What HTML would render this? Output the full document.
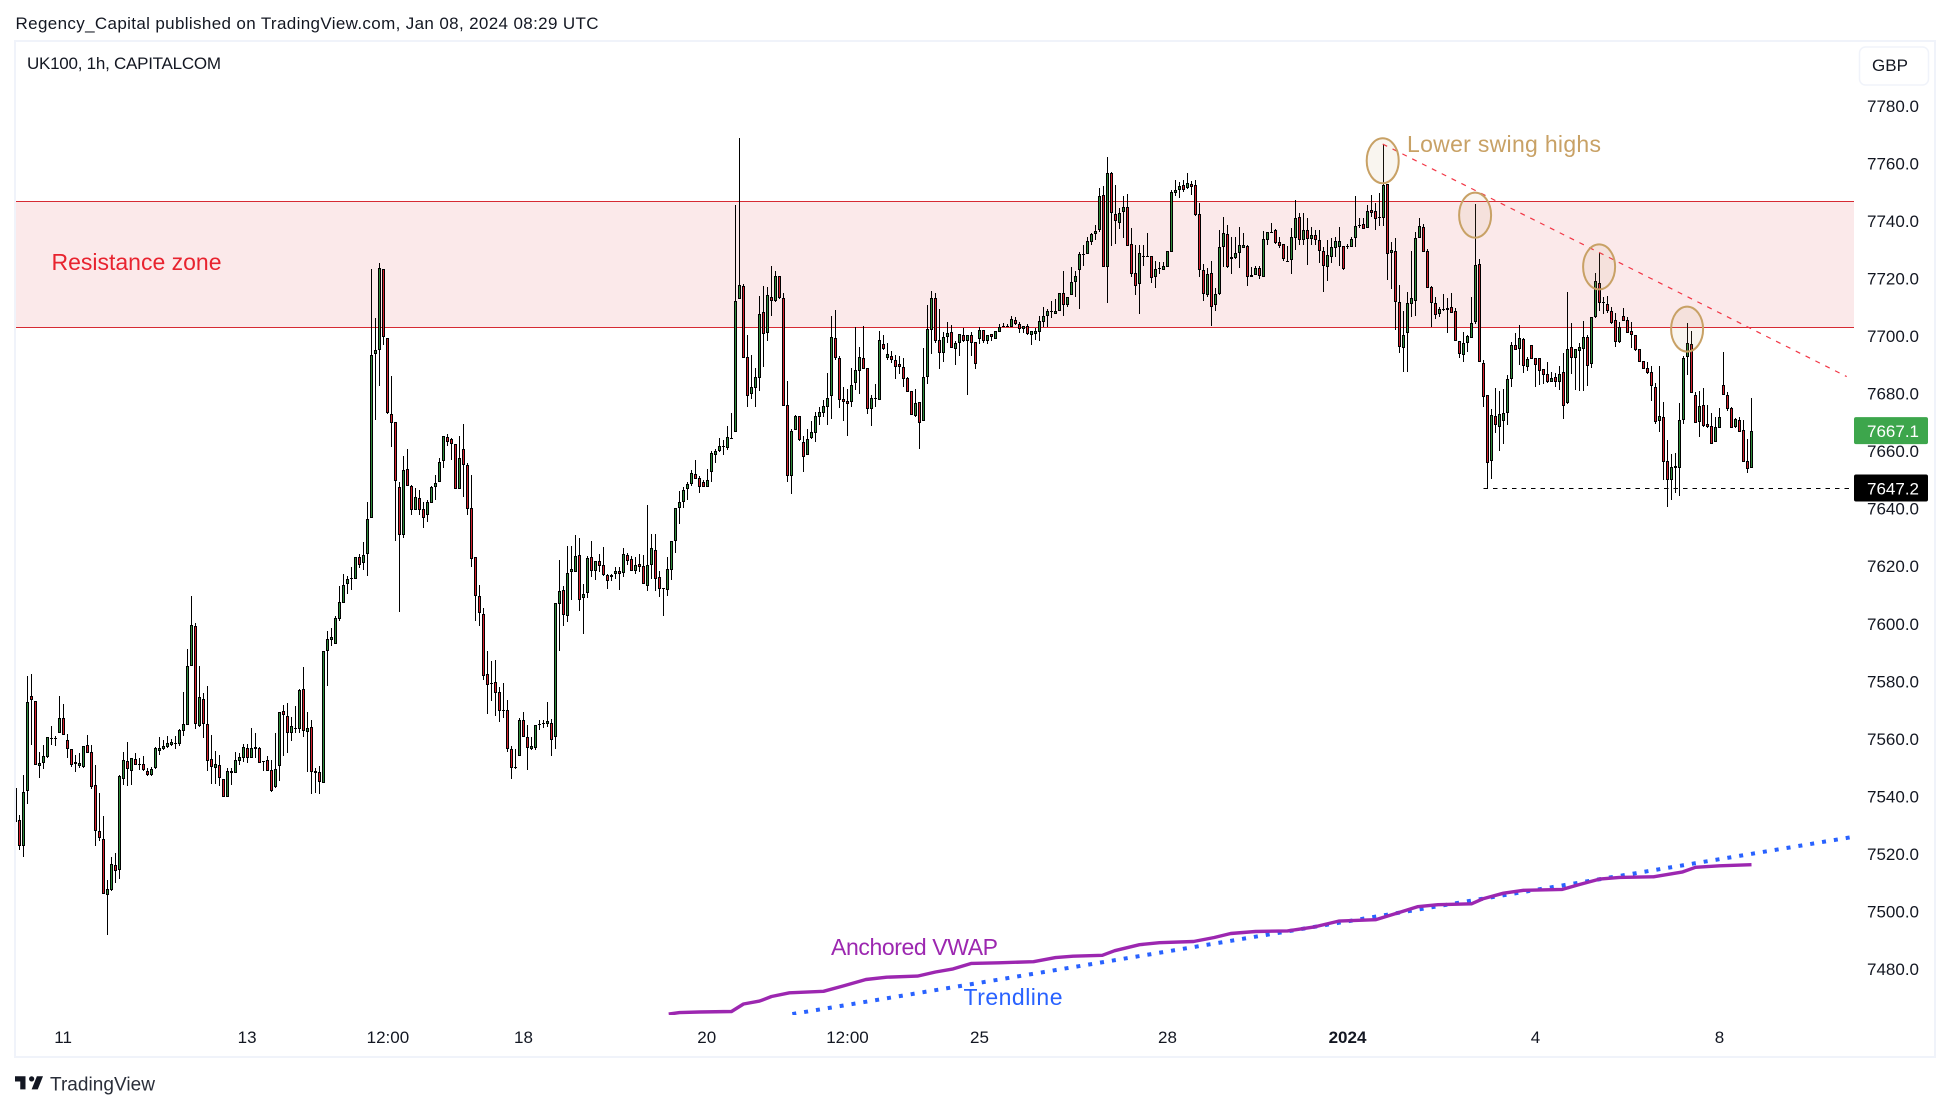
<!DOCTYPE html>
<html lang="en">
<head>
<meta charset="utf-8">
<title>UK100, 1h, CAPITALCOM</title>
<style>
html,body{margin:0;padding:0;background:#fff;}
svg{display:block;font-family:"Liberation Sans",Arial,sans-serif;}
</style>
</head>
<body>
<svg id="chart" xmlns="http://www.w3.org/2000/svg" width="1950" height="1110" viewBox="0 0 1950 1110">
  <defs><clipPath id="plot-clip"><rect x="16" y="42" width="1838" height="973"></rect></clipPath></defs>
  <rect x="0" y="0" width="1950" height="1110" fill="#ffffff"></rect>
  <text x="15.5" y="29" font-size="17" fill="#131722" textLength="583" lengthAdjust="spacing">Regency_Capital published on TradingView.com, Jan 08, 2024 08:29 UTC</text>
  <rect x="15" y="41" width="1920" height="1016" fill="none" stroke="#f0f3fa" stroke-width="2"></rect>
  <text x="27" y="69" font-size="17" fill="#131722" textLength="194" lengthAdjust="spacing">UK100, 1h, CAPITALCOM</text>
  <g id="zone"></g>
  <g id="candles" clip-path="url(#plot-clip)"></g>
  <g id="overlays" clip-path="url(#plot-clip)"></g>
  <text x="51.5" y="270" font-size="23" fill="#e8232f" textLength="170" lengthAdjust="spacing">Resistance zone</text>
  <text x="1407" y="152" font-size="23" fill="#c8a165" textLength="194" lengthAdjust="spacing">Lower swing highs</text>
  <text x="831" y="955" font-size="23" fill="#9c27b0" textLength="167" lengthAdjust="spacing">Anchored VWAP</text>
  <text x="963.5" y="1005" font-size="23" fill="#2962ff" textLength="99" lengthAdjust="spacing">Trendline</text>
  <g id="price-axis"></g>
  <g id="time-axis"></g>
  <g>
    <rect x="1859.5" y="47" width="69" height="38" rx="6" fill="#ffffff" stroke="#f0f3fa" stroke-width="1.5"></rect>
    <text x="1890" y="71" font-size="17" fill="#131722" text-anchor="middle">GBP</text>
  </g>
  <g>
    <path transform="translate(13.25,1071) scale(0.875)" fill="#131722" d="M14 6H2v6h6v9h6V6Zm14 15h-7l6-15h7l-6 15Zm-7-9a3 3 0 1 0 0-6 3 3 0 0 0 0 6Z"></path>
    <text x="50" y="1090.5" font-size="19" fill="#2a2e39" textLength="105" lengthAdjust="spacing">TradingView</text>
  </g>
</svg>
<script>
const priceTicks = [7780,7760,7740,7720,7700,7680,7660,7640,7620,7600,7580,7560,7540,7520,7500,7480];
const timeLabels = ["11","13","12:00","18","20","12:00","25","28","2024","4","8"];
const timeLabelBars = [11.9,57.9,93.1,127,172.8,208,241,288,333,380,426];
const zoneTopPrice = 7746.8;
const zoneBottomPrice = 7703;
const lastPrice = 7667.1;
const supportPrice = 7647.2;

const opensA = [
7543.1,7531.9,7522.7,7541.8,7574.9,7573.1,7550.5,7551.6,7553.8,7560.4,
7560.4,7561.9,7567.2,7559.5,7556.4,7551.3,7550.5,7550.1,7558,7555.4,
7543.9,7528,7525.3,7505.8,7507.4,7516.2,7514.4,7546,7552.2,7548.7,
7553,7551.4,7551.3,7549,7547.4,7549.8,7555.9,7556.4,7557.2,7558,
7558.6,7558.4,7562.7,7564.8,7585.2,7599.3,7564.6,7573.9,7565.1,7553,
7549.8,7550.9,7546.1,7539.9,7548.1,7548.1,7552.4,7553.2,7556.8,7553.5,
7557.1,7557,7552.2,7552.7,7549.2,7543.3,7550.5,7569.6,7567.8,7561.9,
7563.7,7563.5,7577.2,7562.3,7564,7548.2,7548.4,7544.6,7590.5,7594.5,
7593,7601.8,7607.4,7613.8,7615.9,7615.7,7623.2,7621,7624.1,7636.6,
7693.7,7695.3,7723.2,7699.3,7672.8,7670.1,7647.7];
const highsA = [
7546.5,7533.7,7547.3,7581.9,7582.7,7573.1,7555.6,7558,7560.7,7564.6,
7561.1,7575,7572.3,7561.8,7556.4,7554.4,7555.1,7557.5,7561.5,7558,
7551.1,7541.2,7533.2,7510.9,7518.9,7520.2,7547.6,7555.6,7559.1,7553.2,
7555.1,7553.2,7554,7550,7550.3,7557.2,7560.8,7559.5,7561.1,7559.9,
7561.1,7563.5,7576.3,7591.4,7609.5,7600.2,7585.4,7576,7578.5,7561.5,
7555.9,7554.4,7546.1,7550,7550,7555.6,7555.2,7558.3,7558.3,7563.9,
7562.1,7557.1,7552.2,7554,7552.7,7561.9,7569.4,7571.8,7572.6,7567.5,
7571.3,7577.4,7585.1,7569.4,7566.7,7550,7550.5,7590.5,7597.5,7598.6,
7602.6,7613,7617.3,7616.5,7619.8,7623.2,7624.1,7628.4,7642.2,7723.4,
7706.3,7725.4,7723.2,7699.3,7686.2,7670.1,7649.2];
const lowsA = [
7529.2,7521.3,7518.9,7537.5,7558,7550.8,7546.5,7549.7,7553.2,7558,
7557.6,7561.9,7561.3,7553.2,7550.3,7548.4,7550,7550,7555.2,7542.5,
7522.9,7524.5,7506.1,7491.8,7507.2,7510.1,7511.4,7544.1,7543.6,7544.1,
7550.8,7549.2,7548.7,7547.1,7547.1,7549.5,7554.3,7556,7557,7557.5,
7556.4,7557.6,7561.1,7564.8,7585.2,7563.5,7564,7560.3,7548.7,7544.2,
7544.2,7543.6,7539.9,7539.9,7543.9,7548.1,7551.1,7552.1,7551.6,7553.2,
7553.2,7551.6,7548.7,7548.7,7541.7,7542.8,7545.5,7554,7555.1,7559.2,
7561.9,7561.9,7560.7,7548.4,7540.7,7541.2,7540.7,7544.6,7578.4,7592.2,
7593,7601,7607.4,7610.3,7611.9,7615.4,7619.4,7618.6,7616.5,7636.6,
7670.7,7682.7,7696.7,7672.8,7661.3,7628.6,7604.2];
const closesA = [
7531.3,7522.9,7541.7,7572.9,7573.4,7550.8,7551.7,7554,7560.7,7560.3,
7560.3,7567.2,7561.3,7556.4,7550.8,7552.1,7551.6,7557.5,7555.2,7543.3,
7528,7525.6,7506.1,7507.9,7516.5,7514.1,7547.1,7552.7,7549.7,7553.2,
7551.1,7551.3,7549.2,7547.4,7549.7,7556.7,7556.8,7557.5,7558.6,7559.1,
7558.5,7563.2,7565.1,7585.2,7599.6,7565.1,7574.5,7565.1,7552.5,7550.1,
7551.3,7546.3,7539.9,7548.9,7549,7552.7,7553.6,7557.1,7553.5,7557,
7556.4,7551.7,7552.1,7548.7,7542,7549.7,7569.3,7568.2,7561.9,7564.5,
7563.6,7577.1,7562.7,7563.7,7548.4,7549,7544.9,7590.5,7594.6,7595.3,
7602,7607.6,7613.5,7615.7,7615.8,7623.2,7620.5,7623.8,7636.3,7693.4,
7695.1,7723.5,7699.6,7673.1,7669.6,7649.7,7630.8];

const opensB = [
7631,7653.9,7647.9,7639.6,7643.6,7639.9,7637.9,7641.9,7647.4,7649.1,
7656.5,7664.8,7664.1,7662.4,7647,7660.6,7655.1,7640.4,7623.1,7609.8,
7603.3,7582.4,7579.5,7579.7,7576.2,7570.2,7569.9,7556.5,7550.4,7553.9,
7566.5,7560.8,7556.5,7556.9,7565.3,7565.7,7565.3,7565.7,7560.5,7607,
7611.6,7602.8,7618.1,7618.1,7623.8,7609,7610.8,7623.1,7618.2,7621.7,
7620.5,7617,7616.1,7617.2,7618.5,7617.7,7623.8,7622.4,7618.2,7620.9,
7620,7613.3,7620.3,7625.8,7616.1,7612.5,7611.6,7618.6,7628.9,7640.4,
7642.2,7646.7,7648.7,7651.9,7650.5,7649.3,7647.4,7652.9,7658.8,7660,
7661.8,7661.2,7664.6,7666.5,7712.8,7717.3,7692.6,7679.7,7681.8,7685.3,
7708.3,7701.2,7713.5,7712.1,7720.8,7713.1,7675.9,7651.5,7667.4,7672.1];
const highsB = [
7658.3,7660.9,7648.3,7647.2,7646.6,7642.3,7643,7647.9,7651.7,7657.6,
7665.2,7666,7664.5,7662.4,7665.3,7669.4,7655.7,7651.7,7623.1,7613.4,
7605.5,7590.4,7587.1,7587.4,7578.1,7579.4,7573.4,7557.6,7556.5,7567.4,
7569.4,7564.8,7560.5,7565,7566.5,7566.5,7572.9,7566.9,7607.4,7622.2,
7613.3,7627,7627,7630.9,7629.7,7613.8,7623.5,7628.7,7621.9,7624.1,
7626.7,7617.3,7617.3,7619.7,7619.7,7626.3,7624.6,7623.7,7623.3,7624.1,
7623.9,7641.2,7631.3,7631.3,7618.2,7612.6,7623.3,7628.6,7640.4,7646.2,
7647.6,7649.1,7653.6,7656.9,7651.3,7650,7653.9,7660.2,7660.9,7664.5,
7664,7668.6,7673.3,7745.5,7768.7,7718,7700.4,7693.4,7688.8,7714,
7717.4,7717,7724.4,7722.5,7720.8,7715,7684.5,7667.6,7672.5,7672.1];
const lowsB = [
7629.9,7648,7637.9,7639.6,7637.9,7633.4,7635.4,7641.9,7643,7649.1,
7654.1,7661.8,7656.9,7646.7,7647,7643.9,7637.9,7619.9,7600.8,7599.1,
7580.4,7568.5,7573.1,7568.1,7565.8,7567.1,7555.6,7546.1,7549.6,7553.9,
7560.5,7549.3,7556.1,7556.1,7563.2,7563.8,7564.2,7553.9,7556.5,7590.7,
7599.3,7600.7,7608.1,7618.1,7604.4,7596.4,7608.8,7616.4,7615.3,7618,
7616.6,7612.2,7615,7615.7,7611.6,7616.1,7620.6,7618.5,7617.4,7618,
7614,7611.3,7615.7,7611.3,7609.4,7602.8,7609.7,7615.3,7624.7,7634.8,
7640.3,7643,7648,7650.4,7645.6,7647.6,7647.4,7649.1,7655.9,7659.6,
7658.5,7660.5,7664.5,7666.5,7712.8,7692.2,7675.5,7678.2,7675.5,7680.9,
7689.4,7698.4,7706.8,7711.9,7712.8,7675.7,7649.1,7645.2,7667.2,7663.4];
const closesB = [
7653.3,7648,7639.4,7643.9,7639.4,7636.8,7642.3,7647.6,7648.8,7656.3,
7665.2,7663.3,7662.6,7646.7,7657.5,7655.3,7640,7622.6,7609.8,7603.6,
7581.8,7578.9,7579.3,7575.8,7569.8,7570,7556.5,7550,7550.2,7566.5,
7560.5,7556.8,7557.7,7565,7565.1,7565.5,7566.1,7559.7,7607.4,7611.3,
7603.2,7617.8,7618.9,7623.4,7608.4,7610.5,7622.9,7618.5,7621.9,7620.2,
7616.9,7615,7617,7618.5,7617.2,7624.1,7621.9,7618.5,7620.6,7619.6,
7614,7620.3,7626.2,7615.7,7612.1,7612.3,7618.9,7628.6,7640.4,7642.4,
7646.4,7648.5,7652.3,7650.4,7647.4,7647.7,7649.9,7659.2,7660.2,7661.7,
7661.6,7664.8,7664.4,7712.1,7717.6,7692.2,7679,7682.2,7685.6,7707.6,
7700.8,7714.1,7712,7720.8,7713.2,7675.7,7651.2,7666.9,7672.1,7663.7];

const opensC = [
7663.3,7658.6,7664.7,7666.2,7672,7673.1,7675.5,7679,7699.2,7692.2,
7678,7677.3,7676.9,7683.5,7688,7692.3,7688.8,7674.8,7678.5,7677.9,
7697.1,7692.2,7693,7691.6,7690.2,7689.2,7685.3,7680.8,7672.1,7676.9,
7670.4,7685.6,7702,7713.1,7698.5,7694.2,7699.6,7701.3,7695.6,7697.4,
7700.3,7698.1,7700.3,7697.8,7699,7702,7698.4,7700.6,7699.1,7701.5,
7703.4,7703.5,7703.3,7705.5,7704,7702.5,7703.6,7700.5,7700.8,7701.3,
7705,7706.8,7708.7,7707.8,7708.8,7714.9,7710.6,7714.1,7718.6,7723.1,
7728.5,7728.6,7732.5,7735.4,7737,7748.9,7724.1,7756.5,7742.3,7739.4,
7743.2,7744.7,7731.9,7722,7718.2,7727.9,7727.8,7727.7,7720.6,7723.6,
7723.1,7724.1,7729.3,7749.8,7750.9,7752.4,7751.3,7752.7,7752.4,7742.3];
const highsC = [
7665.1,7667.7,7670.5,7673.7,7675.5,7677.8,7687,7706.8,7709,7693.1,
7682.2,7681.5,7688.8,7703,7696.1,7703.5,7688.8,7679.5,7683.4,7701.8,
7700.4,7697.5,7694.8,7693.4,7692.9,7692.3,7685.7,7680.8,7681.5,7676.9,
7695.8,7710.7,7715.6,7714.9,7709.3,7701.5,7704.9,7703.7,7698.3,7700.6,
7702.9,7700.3,7701.4,7697.8,7703.3,7702,7700.3,7700.6,7701.7,7704.2,
7704.4,7704.1,7707,7706.6,7704.9,7703.6,7704.1,7701.7,7702.8,7706.8,
7710.1,7709.5,7712.1,7713,7714.9,7722.6,7713.5,7724,7722.6,7729.3,
7731.5,7734.3,7735.9,7738.6,7751.3,7752.1,7762.1,7756.9,7752.5,7744.4,
7748.7,7749.4,7737.6,7731.6,7731.6,7731.6,7735.8,7727.7,7725.9,7725.6,
7725.6,7729.7,7750.6,7754.2,7753.4,7754.2,7756.7,7753.7,7754.2,7746.1];
const lowsC = [
7652.6,7658.6,7664.3,7663.3,7669.1,7672,7669.1,7671.3,7691.7,7675.1,
7670.5,7665.4,7675.5,7681.3,7679.9,7688.4,7672.9,7668.9,7675.5,7677.6,
7695.2,7691.5,7690.5,7685.1,7686.8,7682.4,7680.7,7672.4,7672,7660.7,
7670.4,7683.4,7693.8,7697.5,7688.6,7691.1,7697.7,7696,7690,7693.1,
7697.8,7679.5,7693.1,7688.7,7697.3,7697.7,7697.3,7698.4,7699.1,7701.5,
7703,7703,7703,7703.9,7701.2,7701.2,7700.4,7696.9,7698.6,7698.3,
7703,7703,7706.3,7707.8,7708.7,7707,7710,7714.1,7713.5,7709.4,
7724.4,7728.5,7731.6,7733.4,7736.3,7723.9,7711.6,7731.1,7732,7737.2,
7734.2,7731.4,7720.6,7714.1,7707.8,7724.4,7727.8,7718.3,7716.8,7721.6,
7723,7724.1,7729.3,7748.7,7748,7749.9,7751,7749,7741.7,7720.6];
const closesC = [
7658.1,7664.1,7666.6,7672.1,7673.5,7675.6,7678.4,7699.6,7692.5,7677.6,
7676.9,7676.4,7682.9,7688.1,7692.6,7688.4,7674.6,7678.4,7678.4,7698.5,
7695.6,7693.7,7691.5,7689.2,7689.4,7684.9,7680.7,7672.5,7676.6,7669.7,
7685.7,7702.4,7713.1,7698.1,7694,7699.6,7701,7696,7697.5,7700.6,
7698.4,7700.3,7697.7,7690.1,7702,7698.4,7700.3,7699.5,7701.7,7703.3,
7703.3,7703.4,7705.8,7704.2,7702.4,7703.6,7700.8,7701.7,7701.7,7705.1,
7706.9,7708.6,7708.6,7708.8,7714.9,7710.6,7713.5,7718.7,7720.8,7728.4,
7728.4,7732.9,7735.4,7736.6,7748.6,7723.9,7756.5,7742.6,7739.8,7742.6,
7744.7,7731.4,7721.7,7717.5,7728.8,7727.8,7727.9,7720,7723.2,7723.5,
7724.2,7729.7,7749.9,7750.6,7752,7750.6,7753.1,7751.9,7741.9,7722.8];

const opensD = [
7722.8,7714.4,7721.8,7710.7,7714.7,7731,7735.3,7727.3,7727,7729,
7730.7,7731.3,7721.2,7721.1,7723.5,7720.4,7733.2,7736.1,7736.7,7732.6,
7731.9,7726.2,7726.3,7734,7741.2,7733.5,7736.7,7733.8,7735,7733.2,
7729.6,7724.1,7727.6,7730.7,7731,7731.2,7731.1,7731,7733.9,7738.7,
7738.8,7737.6,7743.7,7743.3,7741.3,7741.1,7752.7,7729,7729.4,7711.7,
7695.7,7701.2,7711,7712.3,7734.2,7737.8,7729.4,7716.9,7711.6,7707.6,
7709.5,7709.9,7710,7708.8,7698.3,7693.3,7697.5,7699.2,7705,7724.9,
7690.5,7679.4,7656.5,7672.2,7668.5,7670.6,7673.4,7685.2,7696.8,7695.6,
7698.9,7689.4,7696.8,7692.3,7692.3,7688.4,7686.7,7684.1,7685.9,7684.1,
7687.4,7676.7,7696.1,7692.3,7694.9,7695.4,7699.6,7690.2,7706.7,7718.3,
7711.8,7711,7708.6,7705.6,7698,7706.8,7705.5,7701.6,7700.2,7695.6,
7691.3,7688.8,7687.4,7682.3,7670.6,7671.8,7656.4,7650.1,7654,7654.3,
7670.8,7692.6,7697.1,7679.4,7670,7675.9,7669.4,7668.9,7663.3,7668.2,
7682.9,7679.5,7674.9,7668.3,7670.8,7667.4,7656.5,7654.3];
const highsD = [
7725,7723.7,7726,7716.6,7736.8,7741.2,7738.5,7734.5,7734.3,7737.8,
7735.7,7731.5,7724.1,7724.3,7724.3,7736.5,7736,7739.2,7737.2,7734.5,
7731.9,7731.3,7737.4,7747.3,7742.6,7742.9,7741.1,7738,7736.8,7736.8,
7731,7733.4,7734.1,7734.3,7737.8,7731.2,7731.9,7734.5,7748.6,7741.1,
7741.1,7745.5,7749,7746.1,7749.6,7766.2,7752.7,7732.6,7734,7717.7,
7708.8,7715.2,7729.5,7736.3,7740.9,7738.9,7730.2,7717.5,7713.7,7710.2,
7714.6,7713.1,7714.8,7709.6,7698.3,7701.5,7700.4,7713.7,7745.7,7726.6,
7691.7,7679.4,7674.7,7681.8,7681,7681.5,7686.5,7697.8,7700.9,7703.7,
7699.2,7692.6,7696.8,7692.3,7692.3,7688.4,7690.9,7687.6,7687,7689.7,
7694,7715.2,7704.4,7695.4,7697.7,7705.2,7700.4,7706.5,7721.8,7728.7,
7713.7,7713.9,7710,7708.1,7705,7709.6,7706.5,7705,7700.4,7695.6,
7691.3,7691.1,7689.6,7683.6,7689.6,7677,7663.9,7658.9,7659.5,7676.6,
7693.1,7704.4,7701.8,7680.7,7681,7681.8,7676,7673.1,7672,7675,
7694.3,7680.7,7675.2,7671.4,7671.8,7670.8,7664.2,7678.4];
const lowsD = [
7712.2,7713.7,7703.5,7708.8,7714.3,7724.1,7723.5,7721.5,7726.9,7723.6,
7730.5,7717.2,7720.4,7721.1,7719.7,7720.4,7731.6,7735.7,7732,7730.5,
7726.2,7725.8,7721.5,7729.9,7731.6,7731.6,7724.5,7731.6,7731.6,7725.3,
7715.4,7719.2,7725.3,7727.3,7724.3,7723.1,7730.3,7730.8,7731,7737.6,
7737.2,7737.4,7741.2,7736.8,7738.2,7738.2,7719.4,7716.5,7702.1,7694,
7687.6,7687.4,7706.7,7707.1,7733.9,7729.3,7716.6,7703.3,7706,7706.7,
7708.8,7700.9,7707.9,7698.4,7692.2,7691.1,7694.3,7699.2,7704.2,7690.8,
7675.5,7647.1,7650.4,7666.4,7660.2,7662.5,7669.1,7682.4,7695.2,7689.9,
7687.3,7688,7692,7682.4,7683,7683.3,7683.6,7684.1,7682.4,7681.3,
7671.3,7676.3,7686.8,7681.3,7681,7681,7682.8,7689,7706.2,7708.8,
7707.7,7708.1,7704.2,7696.3,7697.7,7705.3,7700.9,7695.8,7694.9,7691.1,
7688.4,7686.8,7677.5,7669.4,7666.8,7650,7640.7,7643,7645.3,7644.5,
7669.4,7686.5,7680.1,7669.9,7664.8,7668.5,7667.9,7662.4,7663.3,7668.2,
7679.6,7674.1,7668,7668,7666.6,7656.1,7652.5,7654];
const closesD = [
7714.7,7721.5,7710,7714.7,7730.8,7735.7,7724.1,7726.6,7728.7,7731.5,
7731.5,7720.6,7720.6,7723.5,7721,7733.6,7736,7736.1,7732.2,7731.4,
7726.8,7726.1,7734.3,7740.9,7733.2,7736.7,7733.8,7735,7733.2,7729.6,
7724.2,7728.1,7730.8,7732.9,7733,7723.2,7731,7733.6,7738.1,7738.6,
7737.2,7743.3,7742.9,7740.5,7741.1,7752.4,7728.6,7729.8,7711.7,7696.3,
7700.2,7711.4,7713.1,7733.9,7738.1,7729.3,7716.6,7711.5,7707.3,7709.3,
7709.4,7709.1,7708.1,7698.4,7693.6,7697.5,7699.9,7704.4,7724.5,7690.8,
7678.9,7655.8,7672.5,7669,7672.9,7673.1,7685,7696.8,7695.2,7699.2,
7689.7,7692,7692,7689.9,7688,7686.5,7684.1,7685.3,7684.1,7686.8,
7675.8,7695.4,7692.3,7695.4,7696.1,7699.5,7689.7,7706.5,7719,7711.4,
7711.7,7708.8,7704.6,7698,7703,7705.3,7701.2,7700.5,7695.2,7691.1,
7688.6,7687,7682.8,7670,7672.1,7656.1,7650,7654.4,7654.8,7670.8,
7692.4,7697.5,7680.1,7669.9,7675.8,7668.9,7668.5,7662.4,7668.3,7671.8,
7679.6,7674.5,7668,7671.1,7666.6,7656.1,7653.7,7667.1];

const opens = [].concat(opensA,opensB,opensC,opensD);
const highs = [].concat(highsA,highsB,highsC,highsD);
const lows = [].concat(lowsA,lowsB,lowsC,lowsD);
const closes = [].concat(closesA,closesB,closesC,closesD);

const vwapBars = [163.3,166,171,179,182,186,189,193.5,202,207,212.6,217.8,225.5,230,234.4,239,245.8,254.5,260,264.4,271.7,274.8,281,286,294.5,299.7,303.8,310,318,324.5,330.8,340,345.3,350.5,355.6,364,367,372,377,386.7,391,396,401,409.5,416.8,420,426,434];
const vwapValues = [7464.4,7464.9,7465.1,7465.3,7467.9,7468.9,7470.5,7471.8,7472.3,7474.2,7476.4,7477.2,7477.6,7479,7480.1,7482,7482.2,7482.6,7484,7484.5,7484.8,7486.4,7488.5,7489.2,7489.6,7491,7492.4,7493.1,7493.3,7494.6,7496.7,7497.2,7499.4,7501.7,7502.4,7502.7,7504.5,7506.4,7507.4,7507.7,7509.4,7511.3,7511.9,7512.1,7513.8,7515.4,7515.9,7516.3];
const trendlineBars = [194.2,458.7];
const trendlineValues = [7464.4,7525.8];
const swingLineBars = [341.8,457.8];
const swingLineValues = [7766.7,7685.9];
const swingHighBars = [341.8,364.9,395.9,417.9];
const swingHighValues = [7760.9,7742,7724,7702.4];

const SVGNS = "http://www.w3.org/2000/svg";
const PLOT_LEFT = 16;
const PLOT_RIGHT = 1854;
function xAt(bar){ return 15.5 + 4 * bar; }
function yAt(price){ return 336 - (price - 7700) * 2.878; }
function make(tag, attrs, parent){
  const el = document.createElementNS(SVGNS, tag);
  for (const k in attrs) el.setAttribute(k, attrs[k]);
  parent.appendChild(el);
  return el;
}

const zoneGroup = document.getElementById("zone");
const zoneFill = make("rect", {x:PLOT_LEFT, y:yAt(zoneTopPrice), width:PLOT_RIGHT-PLOT_LEFT, height:yAt(zoneBottomPrice)-yAt(zoneTopPrice), fill:"#fbe9ea"}, zoneGroup);


[zoneTopPrice, zoneBottomPrice].forEach(function(p){
  const line = make("rect", {x:PLOT_LEFT, y:Math.floor(yAt(p)), width:PLOT_RIGHT-PLOT_LEFT, height:1, fill:"#d62a33"}, zoneGroup);
  
  
});

const candleGroup = document.getElementById("candles");
for (let i = 0; i < closes.length; i++){
  const col = Math.floor(xAt(i));
  const up = closes[i] >= opens[i];
  const g = make("g", {}, candleGroup);
  
  
  const yh = Math.round(yAt(highs[i]));
  const yl = Math.round(yAt(lows[i]));
  make("rect", {x:col, y:yh, width:1, height:Math.max(1, yl-yh), fill:"#000000"}, g);
  const top = Math.round(yAt(Math.max(opens[i], closes[i])));
  const bot = Math.round(yAt(Math.min(opens[i], closes[i])));
  const h = Math.max(1, bot-top);
  make("rect", {x:col-1, y:top, width:3, height:h, fill:"#000000"}, g);
  if (h > 2) make("rect", {x:col, y:top+1, width:1, height:h-2, fill: up ? "#2e8b3a" : "#d3202c"}, g);
}

const overlayGroup = document.getElementById("overlays");
const supportLine = make("line", {x1:xAt(367), y1:Math.round(yAt(supportPrice))+0.5, x2:PLOT_RIGHT, y2:Math.round(yAt(supportPrice))+0.5, stroke:"#000000", "stroke-width":1, "stroke-dasharray":"4.5 5"}, overlayGroup);



const swingLine = make("line", {x1:xAt(swingLineBars[0]), y1:yAt(swingLineValues[0]), x2:xAt(swingLineBars[1]), y2:yAt(swingLineValues[1]), stroke:"#f23645", "stroke-width":1.2, "stroke-dasharray":"5 6"}, overlayGroup);



swingHighBars.forEach(function(b, k){
  const e = make("ellipse", {cx:xAt(b), cy:yAt(swingHighValues[k]), rx:16, ry:22.5, fill:"rgba(200,161,101,0.1)", stroke:"#c8a165", "stroke-width":2}, overlayGroup);
  
  
});

const trendline = make("line", {x1:xAt(trendlineBars[0]), y1:yAt(trendlineValues[0]), x2:xAt(trendlineBars[1]), y2:yAt(trendlineValues[1]), stroke:"#2962ff", "stroke-width":4, "stroke-dasharray":"4 8"}, overlayGroup);



const vwapPoints = vwapBars.map(function(b, k){ return xAt(b).toFixed(1) + "," + yAt(vwapValues[k]).toFixed(1); }).join(" ");
const vwapLine = make("polyline", {points:vwapPoints, fill:"none", stroke:"#9c27b0", "stroke-width":3.4, "stroke-linejoin":"round"}, overlayGroup);



const priceAxis = document.getElementById("price-axis");
priceTicks.forEach(function(p){
  const t = make("text", {x:1919, y:yAt(p)+6, "font-size":17, fill:"#131722", "text-anchor":"end"}, priceAxis);
  
  
  t.textContent = p.toFixed(1);
});
function priceTag(price, bg, name){
  const cy = yAt(price);
  const r = make("rect", {x:1854, y:cy-13.5, width:74, height:27, rx:2, fill:bg}, priceAxis);
  
  
  const t = make("text", {x:1919, y:cy+6.5, "font-size":17, fill:"#ffffff", "text-anchor":"end"}, priceAxis);
  
  
  t.textContent = price.toFixed(1);
}
priceTag(lastPrice, "#3da64c", "last-price-tag");
priceTag(supportPrice, "#000000", "support-price-tag");

const timeAxis = document.getElementById("time-axis");
timeLabels.forEach(function(label, k){
  const t = make("text", {x:xAt(timeLabelBars[k]), y:1043, "font-size":17, fill:"#131722", "text-anchor":"middle"}, timeAxis);
  
  
  if (label === "2024") t.setAttribute("font-weight", "bold");
  t.textContent = label;
});
</script>
</body>
</html>
